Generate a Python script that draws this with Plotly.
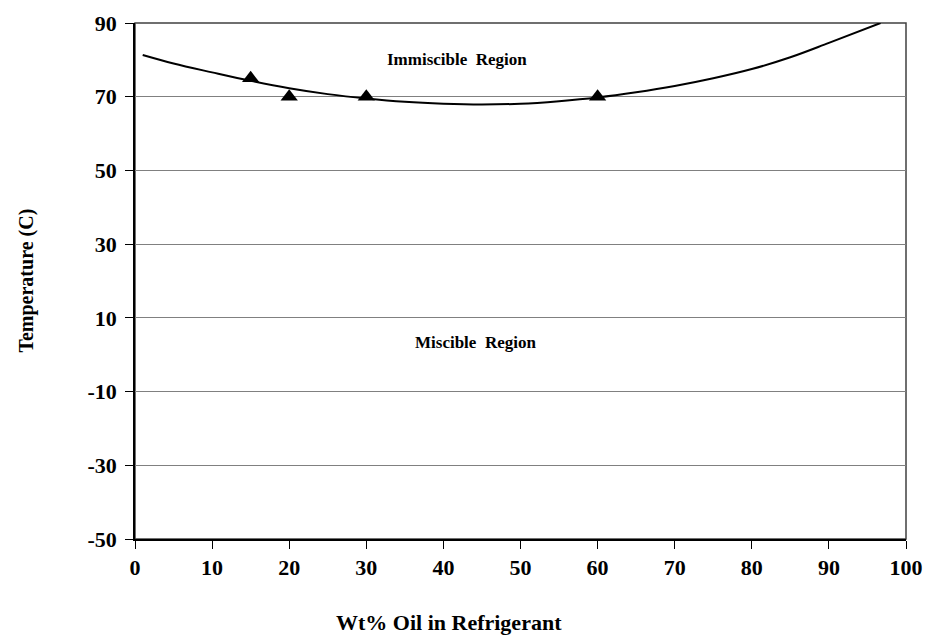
import plotly.graph_objects as go

# Measured data points
pts_x = [15, 20, 30, 60]
pts_y = [75, 70, 70, 70]

# Trend curve values
curve_x = [1, 5, 10, 15, 20, 25, 30, 35, 40, 45, 50, 55, 60, 65, 70, 75, 80, 85, 90, 96.7]
curve_y = [81.3, 79.0, 76.6, 74.3, 72.3, 70.7, 69.5, 68.6, 68.1, 67.9, 68.1, 68.8, 69.8,
           71.2, 72.9, 75.0, 77.5, 80.7, 84.6, 90.0]

x_ticks = [0, 10, 20, 30, 40, 50, 60, 70, 80, 90, 100]
y_ticks = [-50, -30, -10, 10, 30, 50, 70, 90]
y_labels = ["-50", "-30", "-10", "10", "30", "50", "70", "90"]

FONT = "Liberation Serif"
W, H = 925, 637
L, R, T, B = 134.5, 19, 23, 98
pw, ph = W - L - R, H - T - B

fig = go.Figure()
fig.add_trace(go.Scatter(x=curve_x, y=curve_y, mode="lines",
                         line=dict(color="black", width=2, shape="spline", smoothing=1.0),
                         showlegend=False, hoverinfo="skip"))
fig.add_trace(go.Scatter(x=pts_x, y=pts_y, mode="markers",
                         marker=dict(symbol="triangle-up", size=15, color="black"), showlegend=False))

fig.add_annotation(x=41.8, y=80, text="<b>Immiscible  Region</b>", showarrow=False,
                   font=dict(family=FONT, size=17, color="black"))
fig.add_annotation(x=44.1, y=3.2, text="<b>Miscible  Region</b>", showarrow=False,
                   font=dict(family=FONT, size=17, color="black"))
fig.add_annotation(xref="paper", yref="paper", x=(449 - L) / pw, y=-(622 - (H - B)) / ph,
                   xanchor="center", yanchor="middle",
                   text="<b>Wt% Oil in Refrigerant</b>", showarrow=False,
                   font=dict(family=FONT, size=22, color="black"))
fig.add_annotation(xref="paper", yref="paper", x=(25 - L) / pw, y=0.5, textangle=-90,
                   xanchor="center", yanchor="middle",
                   text="<b>Temperature (C)</b>", showarrow=False,
                   font=dict(family=FONT, size=20, color="black"))

fig.update_layout(
    width=W, height=H,
    margin=dict(l=L, r=R, t=T, b=B),
    paper_bgcolor="white", plot_bgcolor="white",
    font=dict(family=FONT, size=17, color="black"),
    xaxis=dict(range=[0, 100], tickvals=x_ticks, ticks="outside", ticklen=8, tickcolor="black",
               showgrid=False, zeroline=False, showline=True, linecolor="black", linewidth=1.5,
               automargin=False,
               tickfont=dict(family=FONT, size=22, color="black", weight="bold"), ticklabelstandoff=0),
    yaxis=dict(range=[-50, 90], tickvals=y_ticks, ticktext=y_labels, ticks="outside", ticklen=8,
               tickcolor="black", showgrid=True, gridcolor="#808080", gridwidth=1.2, zeroline=False,
               showline=True, linecolor="black", linewidth=1.5, automargin=False,
               tickfont=dict(family=FONT, size=22, color="black", weight="bold"), ticklabelstandoff=4),
)
# top/right border
fig.add_shape(type="rect", xref="paper", yref="paper", x0=0, y0=0, x1=1, y1=1,
              line=dict(color="#404040", width=1.5), layer="below")

fig.write_html("out.html", config={"displayModeBar": False},
               post_script="document.body.style.margin='0';document.documentElement.style.overflow='hidden';document.body.style.overflow='hidden';")
